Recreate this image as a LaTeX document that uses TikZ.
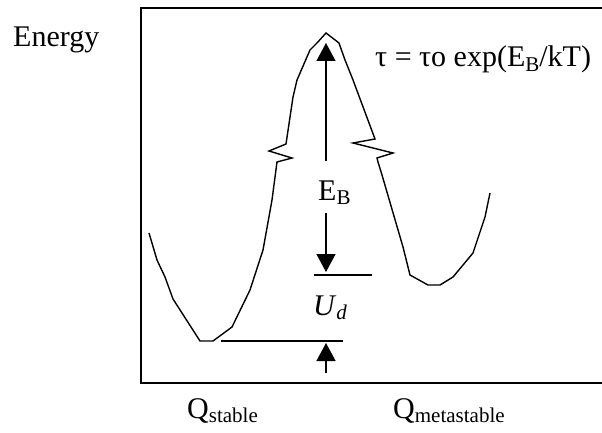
\documentclass[tikz,border=0pt]{standalone}
\usepackage{fontspec}
\setmainfont{Liberation Serif}
\usetikzlibrary{arrows.meta}
\newcommand\lowsub[1]{\raisebox{-0.3ex}{\fontsize{21}{21}\selectfont #1}}
\tikzset{
    framebox/.style={
        draw=black,
        line width=1.8pt
    },
    wellcurve/.style={
        draw=black,
        line width=1.4pt
    },
    levelline/.style={
        draw=black,
        line width=1.4pt
    },
    barrierarrow/.style={
        -{Triangle[length=18pt,width=19pt]},
        draw=black,
        line width=1.3pt
    },
    textlabel/.style={
        inner sep=0pt,
        anchor=base west,
        font=\fontsize{30}{33}\selectfont
    }
}

\begin{document}
\begin{tikzpicture}[x=1pt,y=-1pt]
        \useasboundingbox (0,0) rectangle (602,433);

        % frame, open at the right
        \draw[framebox] (602,8) -- (141,8) -- (141,383) -- (602,383);

        % energy landscape
        \draw[wellcurve] (149,233) -- (157,260) -- (165,277) -- (173,299)
            -- (200,341) -- (213,341) -- (232,327) -- (250,290) -- (263,250)
            -- (272,200) -- (277,162) -- (292,158) -- (269,151) -- (286,144)
            -- (293,97) -- (297,80) -- (310,50) -- (317,43) -- (326,33)
            -- (339,43) -- (345,60) -- (353,80) -- (375,139) -- (353,143)
            -- (393,153) -- (377,158) -- (378,162) -- (382,175) -- (403,247)
            -- (410,275) -- (428,285) -- (440,285) -- (453,277) -- (473,253)
            -- (485,217) -- (490,193);

        % levels
        \coordinate (udleft) at (314,275);
        \coordinate (udright) at (372,275);
        \coordinate (baseleft) at (221,341);
        \coordinate (baseright) at (343,341);
        \draw[levelline] (udleft) -- (udright);
        \draw[levelline] (baseleft) -- (baseright);

        % labels
        \node[textlabel] (energy) at (13,47) {Energy};
        \node[textlabel] (tau) at (375,67) {τ = τo exp(E\lowsub{B}/kT)};
        \node[textlabel] (eb) at (318,200) {E\lowsub{B}};
        \node[textlabel] (ud) at (313,315) {\textit{U}\lowsub{\textit{d}}};
        \node[textlabel] (qstable) at (187,418) {Q\lowsub{stable}};
        \node[textlabel] (qmeta) at (393,418) {Q\lowsub{metastable}};

        % barrier arrows
        \coordinate (peak) at (326,43);
        \coordinate (ebtop) at (326,161);
        \coordinate (ebbottom) at (326,213);
        \coordinate (udtop) at (326,272);
        \coordinate (arrowfoot) at (326,373);
        \coordinate (basetip) at (326,343);
        \draw[barrierarrow] (ebtop) -- (peak);
        \draw[barrierarrow] (ebbottom) -- (udtop);
        \draw[barrierarrow] (arrowfoot) -- (basetip);
\end{tikzpicture}
\end{document}
